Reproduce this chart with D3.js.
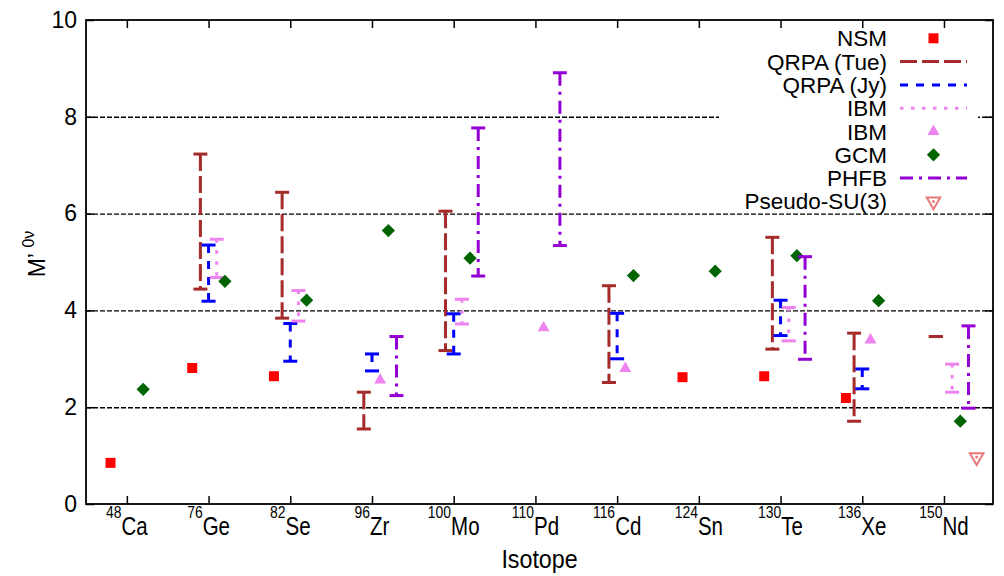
<!DOCTYPE html>
<html>
<head>
<meta charset="utf-8">
<script src="https://cdn.jsdelivr.net/npm/d3@7"></script>
<style>
  body { margin: 0; background: #fff; }
  svg { display: block; font-family: 'Liberation Sans', Arial, sans-serif; }
</style>
</head>
<body>
<svg id="chart" width="1004" height="576"></svg>
<script>
// Isotopes on the x axis.
const massNumbers = ['48', '76', '82', '96', '100', '110', '116', '124', '130', '136', '150'];
const elements = ['Ca', 'Ge', 'Se', 'Zr', 'Mo', 'Pd', 'Cd', 'Sn', 'Te', 'Xe', 'Nd'];

// Values, one entry per isotope (null = no value).
const nsm = [0.85, 2.81, 2.64, null, null, null, null, 2.62, 2.64, 2.19, null];
const qrpaTueLow = [null, 4.44, 3.84, 1.55, 3.17, null, 2.51, null, 3.20, 1.71, 3.46];
const qrpaTueHigh = [null, 7.23, 6.44, 2.31, 6.05, null, 4.51, null, 5.51, 3.53, 3.46];
const qrpaJyLow = [null, 4.19, 2.95, 2.75, 3.10, null, 3.00, null, 3.48, 2.38, null];
const qrpaJyHigh = [null, 5.35, 3.73, 3.10, 3.93, null, 3.94, null, 4.21, 2.79, null];
const ibmLow = [null, 4.68, 3.78, null, 3.72, null, null, null, 3.37, null, 2.31];
const ibmHigh = [null, 5.47, 4.41, null, 4.23, null, null, null, 4.06, null, 2.89];
const ibmPoint = [null, null, null, 2.56, null, 3.64, 2.80, null, null, 3.39, null];
const gcm = [2.37, 4.60, 4.21, 5.65, 5.08, null, 4.72, 4.81, 5.13, 4.20, 1.71];
const phfbLow = [null, null, null, 2.24, 4.71, 5.34, null, null, 2.99, null, 1.98];
const phfbHigh = [null, null, null, 3.46, 7.77, 8.91, null, null, 5.11, null, 3.68];
const pseudoSU3 = [null, null, null, null, null, null, null, null, null, null, 0.97];

const yTickValues = [0, 2, 4, 6, 8, 10];
const gridValues = [2, 4, 6, 8];

// Plot frame.
const plotLeft = 86, plotRight = 993, plotTop = 20, plotBottom = 504;
// The x labels use a condensed face; no narrow font is installed, so squeeze it.
const narrow = 0.82;

const x = d3.scaleLinear().domain([-0.5, 10.6]).range([plotLeft, plotRight]);
const y = d3.scaleLinear().domain([0, 10]).range([plotBottom, plotTop]);

const svg = d3.select('#chart');

// Dashed horizontal grid.
svg.append('g')
  .attr('transform', `translate(${plotLeft},0)`)
  .call(d3.axisLeft(y).tickValues(gridValues).tickSize(-(plotRight - plotLeft)).tickFormat(''))
  .call(g => g.select('.domain').remove())
  .call(g => g.selectAll('line')
    .attr('stroke', '#000')
    .attr('stroke-width', 1.4)
    .attr('stroke-dasharray', '5,2'));

// Key box is opaque, hides the grid behind it.
svg.append('rect')
  .attr('x', 719).attr('y', plotTop + 2)
  .attr('width', 259).attr('height', 190)
  .attr('fill', '#fff');

// Axes (ticks point inward, mirrored on top and right).
const styleAxis = g => {
  g.select('.domain').remove();
  g.selectAll('line').attr('stroke', '#000').attr('stroke-width', 1.5);
};

svg.append('g')
  .attr('transform', `translate(${plotLeft},0)`)
  .call(d3.axisLeft(y).tickValues(yTickValues).tickSizeInner(-8).tickSizeOuter(0).tickPadding(9))
  .call(styleAxis)
  .call(g => g.selectAll('text')
    .attr('fill', '#000')
    .style('font-size', '23px')
    .style('font-family', "'Liberation Sans', Arial, sans-serif"));

svg.append('g')
  .attr('transform', `translate(${plotRight},0)`)
  .call(d3.axisRight(y).tickValues(yTickValues).tickSizeInner(-8).tickSizeOuter(0).tickFormat(''))
  .call(styleAxis);

svg.append('g')
  .attr('transform', `translate(0,${plotBottom})`)
  .call(d3.axisBottom(x).tickValues(d3.range(elements.length)).tickSizeInner(-8).tickSizeOuter(0).tickFormat(''))
  .call(styleAxis);

svg.append('g')
  .attr('transform', `translate(0,${plotTop})`)
  .call(d3.axisTop(x).tickValues(d3.range(elements.length)).tickSizeInner(-8).tickSizeOuter(0).tickFormat(''))
  .call(styleAxis);

svg.append('rect')
  .attr('x', plotLeft).attr('y', plotTop)
  .attr('width', plotRight - plotLeft).attr('height', plotBottom - plotTop)
  .attr('fill', 'none')
  .attr('stroke', '#000')
  .attr('stroke-width', 1.8);

// Isotope labels with superscript mass numbers, centred on each tick.
elements.forEach((el, i) => {
  const g = svg.append('g')
    .attr('transform', `translate(${x(i)},535) scale(${narrow},1)`);
  const sup = g.append('text').attr('font-size', 17).attr('y', -17).text(massNumbers[i]);
  const main = g.append('text').attr('font-size', 25).text(el);
  const w1 = sup.node().getComputedTextLength();
  const w2 = main.node().getComputedTextLength();
  sup.attr('x', -(w1 + w2) / 2);
  main.attr('x', -(w1 + w2) / 2 + w1);
});

svg.append('text')
  .attr('transform', `translate(${(plotLeft + plotRight) / 2},568) scale(0.93,1)`)
  .attr('text-anchor', 'middle')
  .attr('font-size', 25)
  .text('Isotope');

const yLabel = svg.append('text')
  .attr('transform', 'translate(45,254) rotate(-90)')
  .attr('text-anchor', 'middle');
yLabel.append('tspan').attr('font-size', 23).text('M\u2019 ');
yLabel.append('tspan').attr('font-size', 16).attr('dy', -11).text('0\u03bd');

// Series styles.
const capHalf = 7;
const styles = {
  nsm: { color: '#ff0000', offset: -0.2 },
  tue: { color: '#a52a2a', offset: -0.1, dash: '17,5' },
  jy: { color: '#0000ff', offset: 0, dash: '8,8' },
  ibm: { color: '#ee82ee', offset: 0.1, dash: '3.5,7.5' },
  ibmPt: { color: '#ee82ee', offset: 0.1 },
  gcm: { color: '#006400', offset: 0.2 },
  phfb: { color: '#9400d3', offset: 0.3, dash: '13,6,3,6' },
  su3: { color: '#e8787a', offset: 0.4 }
};

const present = arr => arr.map((v, i) => ({ i, v })).filter(d => d.v !== null);

const drawBars = (low, high, st) => {
  const data = low.map((lo, i) => ({ i, lo, hi: high[i] })).filter(d => d.lo !== null);
  const g = svg.append('g').attr('stroke', st.color).attr('stroke-width', 3).attr('fill', 'none');
  g.selectAll('line.bar')
    .data(data.filter(d => d.hi !== d.lo))
    .join('line')
    .attr('class', 'bar')
    .attr('x1', d => x(d.i + st.offset))
    .attr('x2', d => x(d.i + st.offset))
    .attr('y1', d => y(d.hi))
    .attr('y2', d => y(d.lo))
    .attr('stroke-dasharray', st.dash);
  const caps = data.flatMap(d => [{ i: d.i, v: d.lo }, { i: d.i, v: d.hi }]);
  g.selectAll('line.cap')
    .data(caps)
    .join('line')
    .attr('class', 'cap')
    .attr('x1', d => x(d.i + st.offset) - capHalf)
    .attr('x2', d => x(d.i + st.offset) + capHalf)
    .attr('y1', d => y(d.v))
    .attr('y2', d => y(d.v));
};

const squareSym = d3.symbol(d3.symbolSquare, 100);
const diamondSym = d3.symbol(d3.symbolSquare, 88);
const triangleSym = d3.symbol(d3.symbolTriangle, 62);
const downSym = d3.symbol(d3.symbolTriangle, 80);

const drawPoints = (values, st, sym, rotate) => {
  svg.append('g')
    .selectAll('path')
    .data(present(values))
    .join('path')
    .attr('d', sym)
    .attr('transform', d => `translate(${x(d.i + st.offset)},${y(d.v)}) rotate(${rotate})`)
    .attr('fill', st.color);
};

// Plot in key order.
drawPoints(nsm, styles.nsm, squareSym, 0);
drawBars(qrpaTueLow, qrpaTueHigh, styles.tue);
drawBars(qrpaJyLow, qrpaJyHigh, styles.jy);
drawBars(ibmLow, ibmHigh, styles.ibm);
drawPoints(ibmPoint, styles.ibmPt, triangleSym, 0);
drawPoints(gcm, styles.gcm, diamondSym, 45);
drawBars(phfbLow, phfbHigh, styles.phfb);

const su3 = svg.append('g').selectAll('g')
  .data(present(pseudoSU3))
  .join('g')
  .attr('transform', d => `translate(${x(d.i + styles.su3.offset)},${y(d.v)})`);
su3.append('path')
  .attr('d', downSym)
  .attr('transform', 'rotate(180)')
  .attr('fill', 'none')
  .attr('stroke', styles.su3.color)
  .attr('stroke-width', 2);
su3.append('circle').attr('r', 1.5).attr('fill', styles.su3.color);

// Key.
const keyNames = ['NSM', 'QRPA (Tue)', 'QRPA (Jy)', 'IBM', 'IBM', 'GCM', 'PHFB', 'Pseudo-SU(3)'];
const keyKinds = ['square', 'tue', 'jy', 'ibm', 'triangle', 'diamond', 'phfb', 'down'];
const keyTextX = 887, keySampleX1 = 900, keySampleX2 = 967, keyTop = 38.3, keyStep = 23.3;

const key = svg.append('g');
keyNames.forEach((name, i) => {
  const ky = keyTop + keyStep * i;
  key.append('text')
    .attr('x', keyTextX)
    .attr('y', ky + 8)
    .attr('text-anchor', 'end')
    .attr('font-size', 22.5)
    .text(name);
  const kind = keyKinds[i];
  const mx = (keySampleX1 + keySampleX2) / 2;
  if (styles[kind]) {
    key.append('line')
      .attr('x1', keySampleX1).attr('x2', keySampleX2)
      .attr('y1', ky).attr('y2', ky)
      .attr('stroke', styles[kind].color)
      .attr('stroke-width', 3)
      .attr('stroke-dasharray', styles[kind].dash);
  } else if (kind === 'square') {
    key.append('path').attr('d', squareSym).attr('transform', `translate(${mx},${ky})`).attr('fill', styles.nsm.color);
  } else if (kind === 'triangle') {
    key.append('path').attr('d', triangleSym).attr('transform', `translate(${mx},${ky})`).attr('fill', styles.ibmPt.color);
  } else if (kind === 'diamond') {
    key.append('path').attr('d', diamondSym).attr('transform', `translate(${mx},${ky}) rotate(45)`).attr('fill', styles.gcm.color);
  } else if (kind === 'down') {
    key.append('path').attr('d', downSym).attr('transform', `translate(${mx},${ky}) rotate(180)`)
      .attr('fill', 'none').attr('stroke', styles.su3.color).attr('stroke-width', 2);
    key.append('circle').attr('cx', mx).attr('cy', ky).attr('r', 1.5).attr('fill', styles.su3.color);
  }
});
</script>
</body>
</html>
